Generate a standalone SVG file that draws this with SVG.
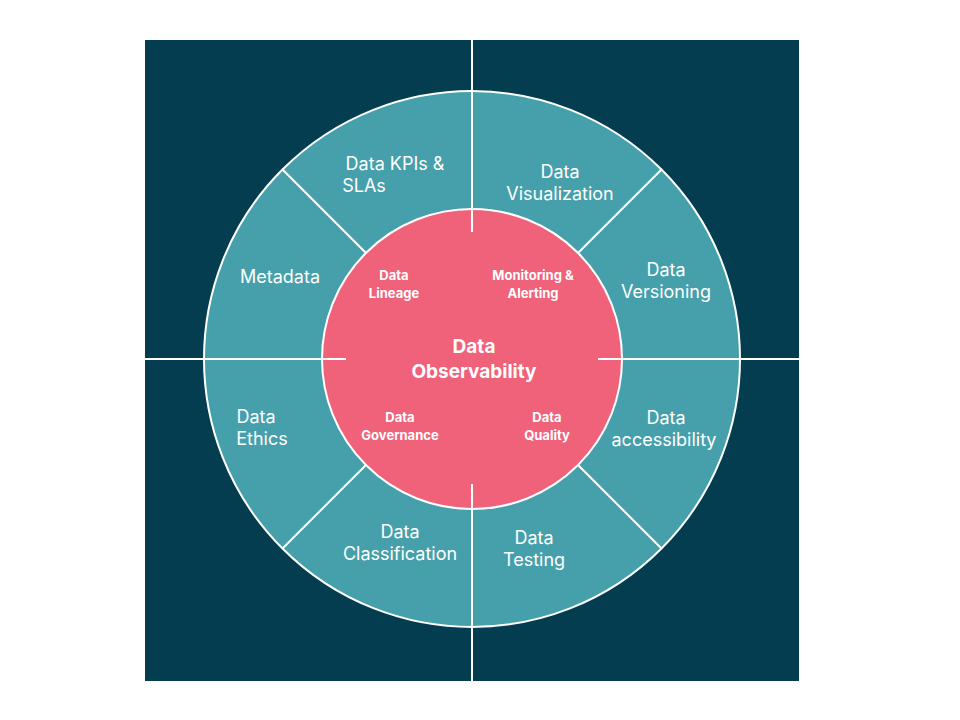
<svg xmlns="http://www.w3.org/2000/svg" width="960" height="720" viewBox="0 0 960 720">
<style>
.o{font-family:Inter,"Liberation Sans",sans-serif;font-size:18px;fill:#fff;text-anchor:middle}
.i{font-family:Inter,"Liberation Sans",sans-serif;font-size:13px;font-weight:700;fill:#fff;text-anchor:middle}
.c{font-family:Inter,"Liberation Sans",sans-serif;font-size:19px;font-weight:700;fill:#fff;text-anchor:middle}
.l{stroke:#fff;stroke-width:2;fill:none}
</style>
<rect width="960" height="720" fill="#fff"/>
<rect x="145" y="40" width="654" height="641" fill="#033d4f"/>
<g id="ring"><circle cx="472" cy="359" r="268" fill="#46a0ab" stroke="#fff" stroke-width="2"/></g>
<g id="core"><circle cx="472" cy="359" r="150" fill="#f0627a" stroke="#fff" stroke-width="2"/></g>
<g id="connectors" class="l">
<path d="M472 40V232M472 484V681M145 359H346M598 359H799"/>
<path d="M366 253L283 170M578 253L661 170M366 465L283 548M578 465L661 548"/>
</g>
<g id="outer">
<text class="o" x="395" y="170">Data KPIs &amp;</text><text class="o" x="364" y="192">SLAs</text>
<text class="o" x="560" y="178">Data</text><text class="o" x="560" y="200">Visualization</text>
<text class="o" x="666" y="276">Data</text><text class="o" x="666" y="298">Versioning</text>
<text class="o" x="280" y="283">Metadata</text>
<text class="o" x="256" y="423">Data</text><text class="o" x="262" y="445">Ethics</text>
<text class="o" x="666" y="424">Data</text><text class="o" x="664" y="446">accessibility</text>
<text class="o" x="400" y="538">Data</text><text class="o" x="400" y="560">Classification</text>
<text class="o" x="534" y="544">Data</text><text class="o" x="534" y="566">Testing</text>
</g>
<g id="inner">
<text class="i" x="394" y="280">Data</text><text class="i" x="394" y="298">Lineage</text>
<text class="i" x="533" y="280">Monitoring &amp;</text><text class="i" x="533" y="298">Alerting</text>
<text class="i" x="400" y="422">Data</text><text class="i" x="400" y="440">Governance</text>
<text class="i" x="547" y="422">Data</text><text class="i" x="547" y="440">Quality</text>
<text class="c" x="474" y="353">Data</text><text class="c" x="474" y="378">Observability</text>
</g>
</svg>
